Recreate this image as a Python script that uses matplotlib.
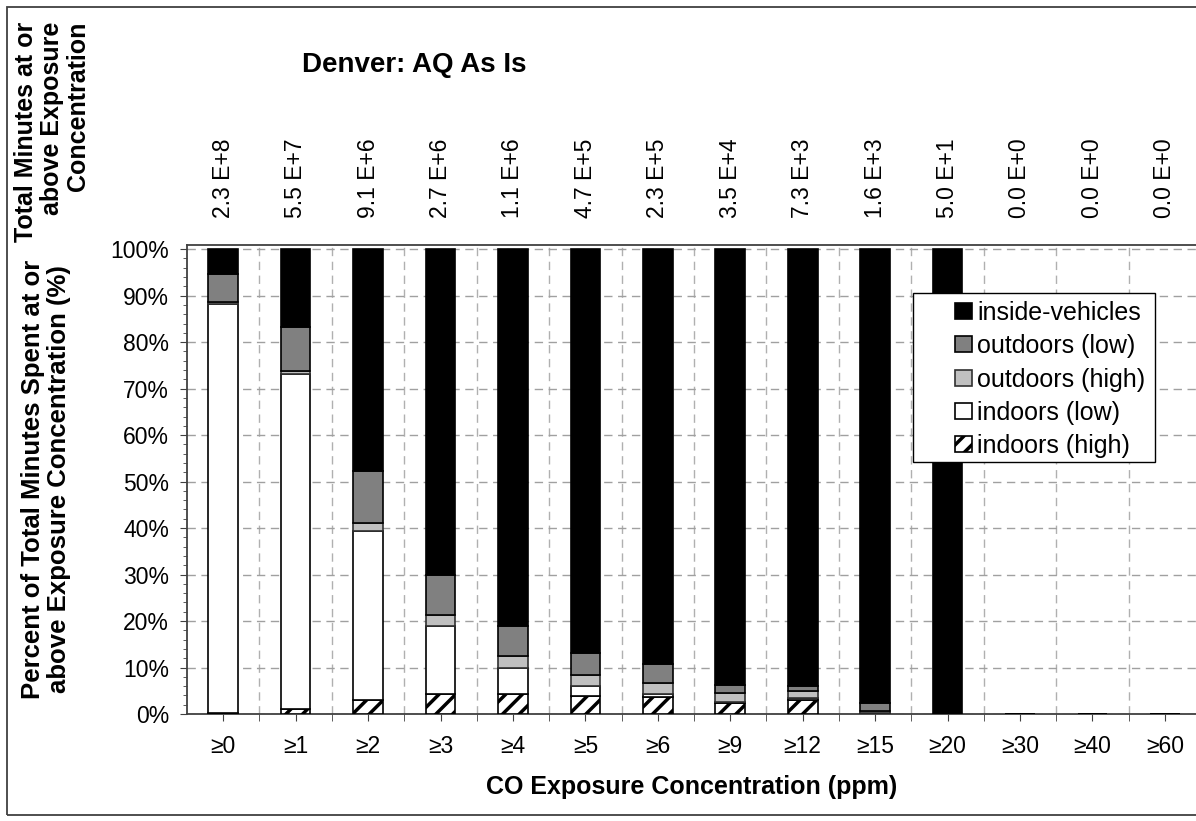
import matplotlib.pyplot as plt
from matplotlib.patches import Rectangle
import numpy as np

plt.rcParams['font.family'] = ['Liberation Sans', 'DejaVu Sans']
plt.rcParams['hatch.linewidth'] = 2.5

categories = ['≥0', '≥1', '≥2', '≥3', '≥4', '≥5', '≥6', '≥9', '≥12', '≥15', '≥20', '≥30', '≥40', '≥60']
totals = [2.3e8, 5.5e7, 9.1e6, 2.7e6, 1.1e6, 4.7e5, 2.3e5, 3.5e4, 7.3e3, 1.6e3, 5.0e1, 0, 0, 0]

# percent of minutes per microenvironment, bottom to top
indoors_high = [0.2, 1.0, 3.0, 4.3, 4.3, 3.9, 3.6, 2.3, 3.0, 0.1, 0, 0, 0, 0]
indoors_low = [88.1, 72.1, 36.4, 14.6, 5.7, 2.1, 0.8, 0.3, 0.4, 0.1, 0, 0, 0, 0]
outdoors_high = [0.3, 0.7, 1.6, 2.3, 2.4, 2.4, 2.3, 2.0, 1.6, 0.4, 0, 0, 0, 0]
outdoors_low = [6.1, 9.5, 11.2, 8.8, 6.6, 4.8, 4.0, 1.6, 1.0, 1.7, 0, 0, 0, 0]
inside_vehicles = [5.3, 16.7, 47.8, 70.0, 81.0, 86.8, 89.3, 93.8, 94.0, 97.7, 100, 0, 0, 0]


def fmt_total(v):
    if v == 0:
        return '0.0 E+0'
    e = int(np.floor(np.log10(v)))
    return '%.1f E+%d' % (v / 10 ** e, e)


FS = 16.5
W, H = 1196, 821

fig = plt.figure(figsize=(11.96, 8.21), dpi=100)
ax = fig.add_axes([187 / W, 1 - 714 / H, 1 - 187 / W, (714 - 245) / H])

x = np.arange(len(categories))
w = 0.41
series = [
    ('indoors (high)', indoors_high, dict(color='white', edgecolor='black', hatch='//')),
    ('indoors (low)', indoors_low, dict(color='white', edgecolor='black')),
    ('outdoors (high)', outdoors_high, dict(color='#c0c0c0', edgecolor='#303030')),
    ('outdoors (low)', outdoors_low, dict(color='#808080', edgecolor='black')),
    ('inside-vehicles', inside_vehicles, dict(color='black', edgecolor='black')),
]
bottom = np.zeros(len(categories))
handles = {}
for name, vals, style in series:
    vals = np.array(vals, dtype=float)
    b = ax.bar(x, vals, w, bottom=bottom, linewidth=1.2, zorder=3, label=name, **style)
    handles[name] = b
    bottom += vals

ax.set_xlim(-0.5, 13.43)
ax.set_ylim(0, 100.9)
ax.set_yticks(np.arange(0, 101, 10))
ax.set_yticklabels(['%d%%' % v for v in range(0, 101, 10)], fontsize=FS)
ax.set_yticks(np.arange(0, 101, 2), minor=True)
ax.set_xticks(x)
ax.set_xticklabels(categories, fontsize=FS)
ax.set_xticks(x[:-1] + 0.5, minor=True)
ax.tick_params(axis='x', which='both', length=5, pad=10, color='#404040')
ax.tick_params(axis='y', which='major', length=5, pad=8, color='#404040')
ax.tick_params(axis='y', which='minor', length=3, color='#404040')

ax.grid(axis='y', which='major', linestyle=(0, (6, 4)), color='#a0a0a0', linewidth=1, zorder=0)
for xb in x[:-1] + 0.5:
    ax.axvline(xb, linestyle=(0, (6, 4)), color='#b0b0b0', linewidth=1, zorder=0)
ax.set_axisbelow(True)
ax.spines['right'].set_visible(False)
for s in ['left', 'bottom', 'top']:
    ax.spines[s].set_color('#404040')
    ax.spines[s].set_linewidth(1.3)

ax.set_xlabel('CO Exposure Concentration (ppm)', fontsize=18, fontweight='bold', labelpad=12)
ax.set_ylabel('Percent of Total Minutes Spent at or\nabove Exposure Concentration (%)',
              fontsize=18.5, fontweight='bold', labelpad=28, linespacing=1.12)

for xi, t in zip(x, totals):
    ax.text(xi, 1.0 + 27 / 469, fmt_total(t), transform=ax.get_xaxis_transform(),
            rotation=90, ha='center', va='bottom', fontsize=FS)

fig.text(52 / W, 1 - 22 / H, 'Total Minutes at or\nabove Exposure\nConcentration',
         rotation=90, ha='center', va='top', multialignment='right',
         fontsize=18, fontweight='bold', linespacing=1.12)
fig.text(414 / W, 1 - 65 / H, 'Denver: AQ As Is', ha='center', va='center',
         fontsize=20, fontweight='bold')

# legend: frame drawn separately because the reference has a wide left margin
order = ['inside-vehicles', 'outdoors (low)', 'outdoors (high)', 'indoors (low)', 'indoors (high)']
leg = ax.legend([handles[n] for n in order], order, loc='upper left',
                bbox_to_anchor=(955 / W, 1 - 301 / H), bbox_transform=fig.transFigure,
                fontsize=18, frameon=False,
                handlelength=0.68, handleheight=0.6, handletextpad=0.2, borderpad=0,
                labelspacing=0.37, borderaxespad=0)
leg.set_zorder(6)
ax.add_patch(Rectangle((913 / W, 1 - 462 / H), (1155 - 913) / W, (462 - 293) / H,
                       transform=fig.transFigure, facecolor='white', edgecolor='black',
                       linewidth=1.0, zorder=5, clip_on=False))

fig.patches.append(Rectangle((7 / W, 6 / H), 1.2, 1 - 13 / H, transform=fig.transFigure,
                             fill=False, edgecolor='#404040', linewidth=1.3))

fig.savefig('out.png', dpi=100)
